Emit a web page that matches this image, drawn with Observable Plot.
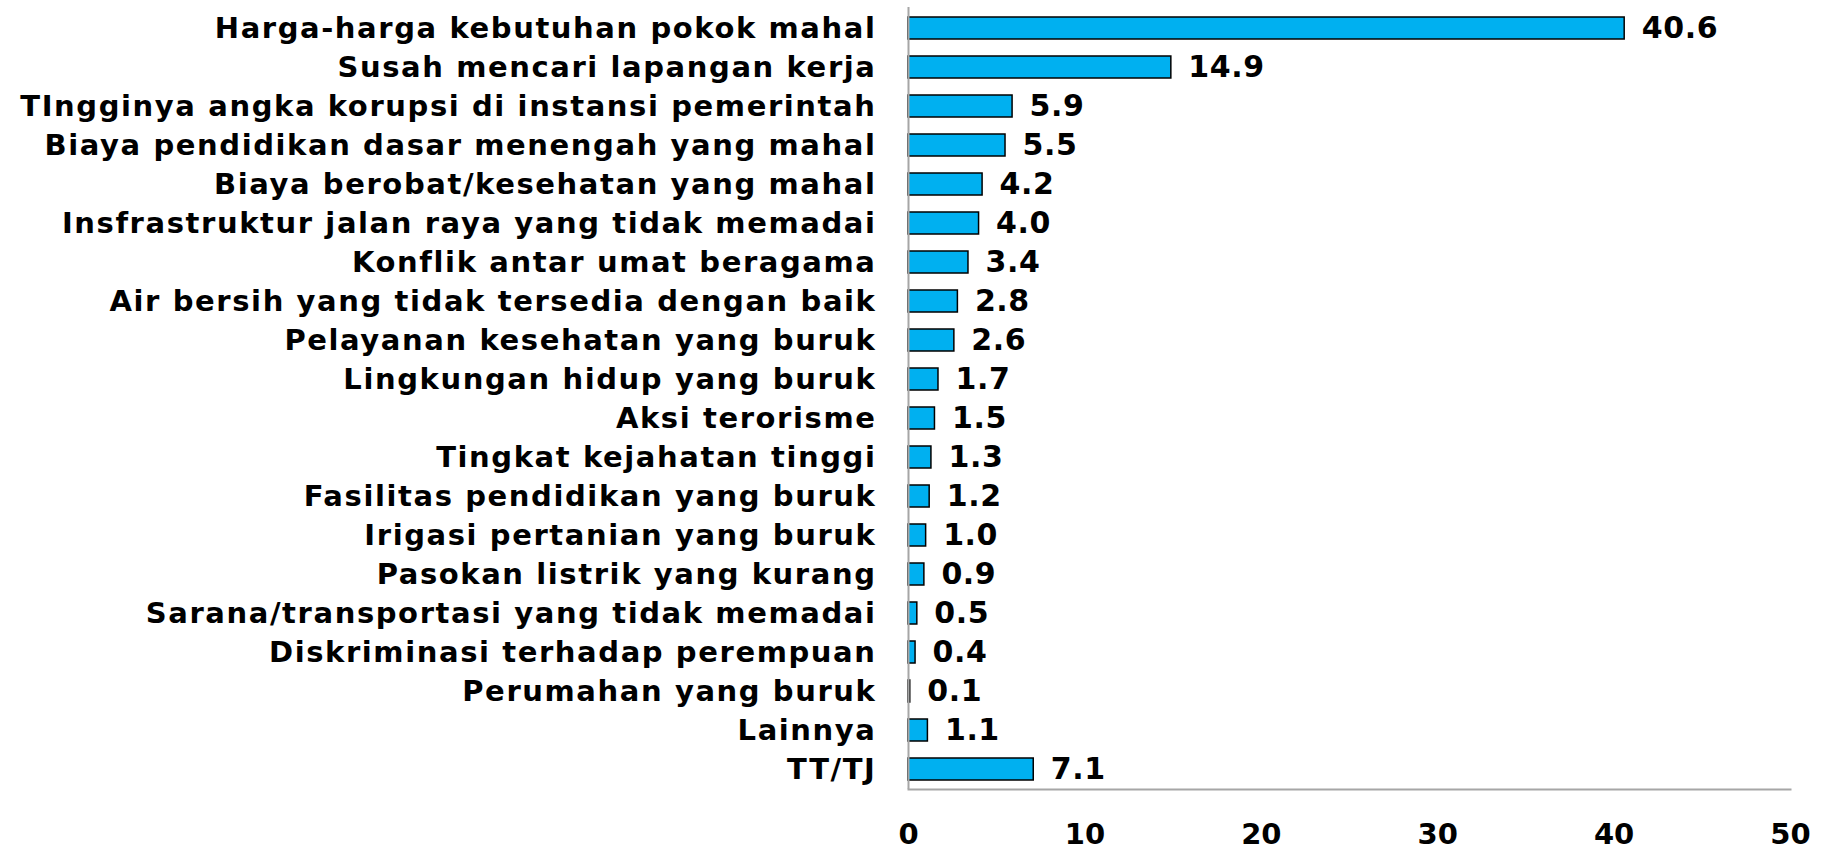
<!DOCTYPE html>
<html>
<head>
<meta charset="utf-8">
<script src="https://cdn.jsdelivr.net/npm/d3@7"></script>
<script src="https://cdn.jsdelivr.net/npm/@observablehq/plot@0.6"></script>
<style>
  html, body { margin: 0; padding: 0; background: #fff; }
  g[aria-label="y-axis tick label"] text { letter-spacing: 1.6px; }
  g[aria-label="text"] text { letter-spacing: 0.6px; }
</style>
</head>
<body>
<div id="chart"></div>
<script>
const categories = [
  "Harga-harga kebutuhan pokok mahal",
  "Susah mencari lapangan kerja",
  "TIngginya angka korupsi di instansi pemerintah",
  "Biaya pendidikan dasar menengah yang mahal",
  "Biaya berobat/kesehatan yang mahal",
  "Insfrastruktur jalan raya yang tidak memadai",
  "Konflik antar umat beragama",
  "Air bersih yang tidak tersedia dengan baik",
  "Pelayanan kesehatan yang buruk",
  "Lingkungan hidup yang buruk",
  "Aksi terorisme",
  "Tingkat kejahatan tinggi",
  "Fasilitas pendidikan yang buruk",
  "Irigasi pertanian yang buruk",
  "Pasokan listrik yang kurang",
  "Sarana/transportasi yang tidak memadai",
  "Diskriminasi terhadap perempuan",
  "Perumahan yang buruk",
  "Lainnya",
  "TT/TJ"
];
const values = [40.6, 14.9, 5.9, 5.5, 4.2, 4.0, 3.4, 2.8, 2.6, 1.7, 1.5, 1.3, 1.2, 1.0, 0.9, 0.5, 0.4, 0.1, 1.1, 7.1];
const xTicks = [0, 10, 20, 30, 40, 50];

const data = categories.map((c, i) => ({category: c, value: values[i]}));

const chart = Plot.plot({
  width: 1828,
  height: 853,
  marginLeft: 908,
  marginRight: 38,
  marginTop: 7,
  marginBottom: 64,
  style: {fontFamily: "DejaVu Sans", fontWeight: "bold", fontSize: "28px", color: "#000", background: "#fff"},
  x: {domain: [0, 50], ticks: xTicks, label: null},
  y: {domain: categories, paddingInner: 0.44, paddingOuter: 0.2, label: null},
  marks: [
    Plot.barX(data, {x: "value", y: "category", fill: "#00B0F0", stroke: "#000", strokeWidth: 1.5}),
    Plot.text(data, {x: "value", y: "category", text: d => d.value.toFixed(1), textAnchor: "start", dx: 17, fontSize: 30, fontWeight: "bold", fill: "#000"}),
    Plot.ruleX([0], {stroke: "#a6a6a6", strokeWidth: 2}),
    Plot.frame({anchor: "bottom", stroke: "#a6a6a6", strokeWidth: 2}),
    Plot.axisY({tickSize: 0, tickPadding: 32, fontSize: 29, fontWeight: "bold", label: null}),
    Plot.axisX({ticks: xTicks, tickSize: 0, tickPadding: 34, fontSize: 29, fontWeight: "bold", label: null})
  ]
});
document.getElementById("chart").appendChild(chart);
</script>
</body>
</html>
